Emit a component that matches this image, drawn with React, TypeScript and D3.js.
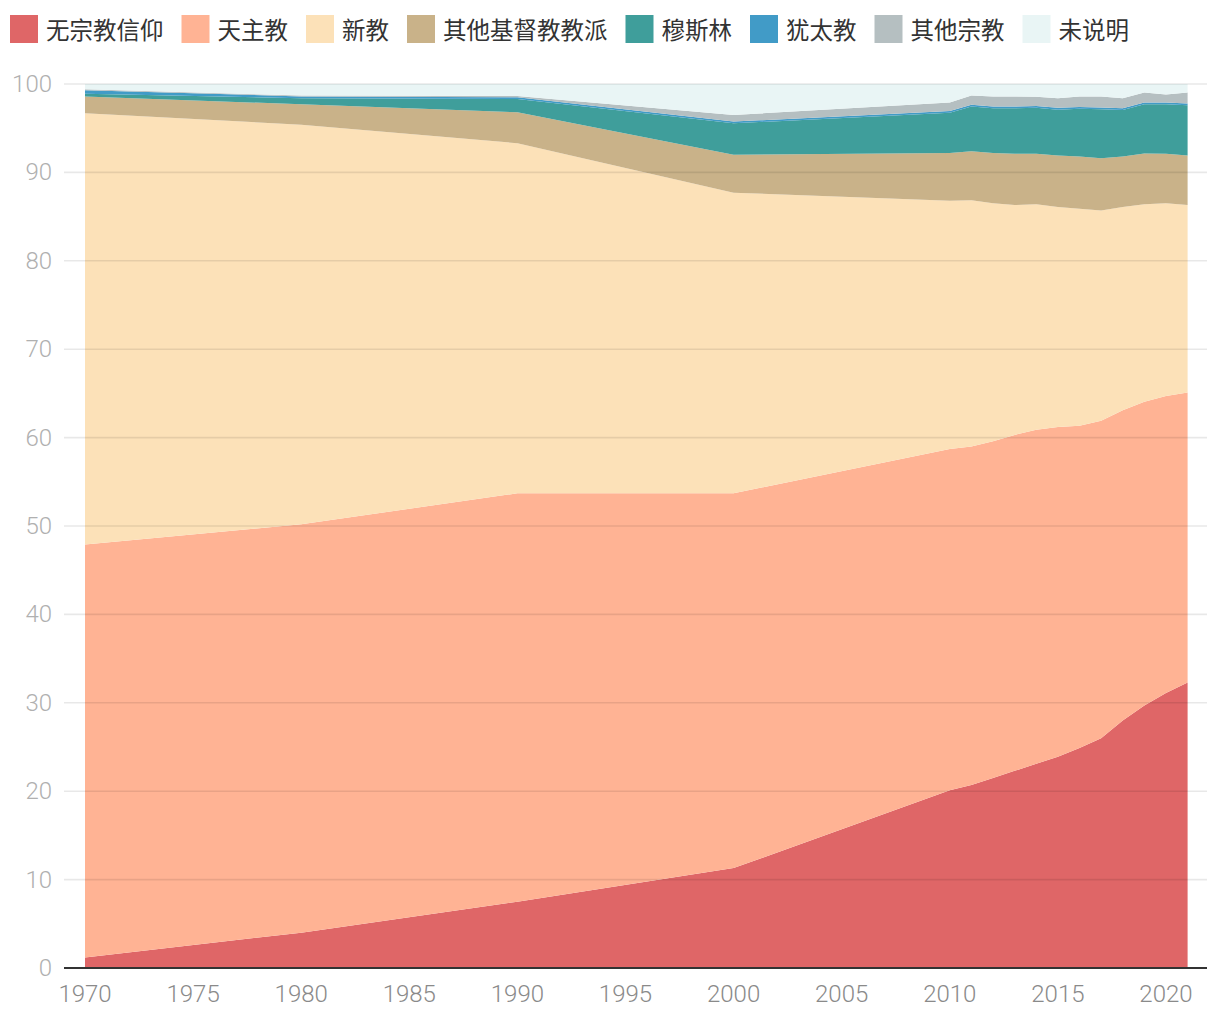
import React from "react";
import * as d3 from "d3";

const years = [1970, 1980, 1990, 2000, 2010, 2011, 2012, 2013, 2014, 2015, 2016, 2017, 2018, 2019, 2020, 2021];
const noReligion = [1.2, 4.0, 7.5, 11.3, 20.1, 20.7, 21.5, 22.3, 23.1, 23.9, 24.9, 26.0, 28.0, 29.7, 31.1, 32.3];
const catholic = [46.7, 46.2, 46.2, 42.4, 38.6, 38.3, 38.1, 38.0, 37.8, 37.3, 36.45, 35.9, 35.1, 34.35, 33.6, 32.8];
const protestant = [48.8, 45.2, 39.6, 34.0, 28.1, 27.85, 26.9, 26.0, 25.5, 24.9, 24.55, 23.8, 23.0, 22.35, 21.8, 21.2];
const otherChristian = [1.9, 2.3, 3.5, 4.3, 5.4, 5.55, 5.7, 5.8, 5.7, 5.8, 5.9, 5.9, 5.7, 5.75, 5.6, 5.6];
const muslim = [0.3, 0.7, 1.5, 3.55, 4.55, 5.05, 5.05, 5.15, 5.2, 5.2, 5.4, 5.55, 5.25, 5.55, 5.6, 5.7];
const jewish = [0.4, 0.2, 0.2, 0.2, 0.2, 0.2, 0.2, 0.2, 0.2, 0.2, 0.2, 0.2, 0.2, 0.2, 0.2, 0.2];
const otherReligion = [0.1, 0.1, 0.15, 0.75, 0.95, 1.05, 1.15, 1.15, 1.05, 1.1, 1.2, 1.25, 1.15, 1.15, 0.9, 1.25];
const unspecified = [0.6, 1.3, 1.35, 3.5, 2.1, 1.3, 1.4, 1.4, 1.45, 1.6, 1.4, 1.4, 1.6, 0.95, 1.2, 0.95];

const seriesNames = ["无宗教信仰", "天主教", "新教", "其他基督教教派", "穆斯林", "犹太教", "其他宗教", "未说明"];
const seriesValues = [noReligion, catholic, protestant, otherChristian, muslim, jewish, otherReligion, unspecified];
const seriesColors = ["#df6667", "#ffb394", "#fce1b8", "#c9b289", "#3f9e9b", "#419bc7", "#b5bfc1", "#e9f5f5"];

const yTicks = [0, 10, 20, 30, 40, 50, 60, 70, 80, 90, 100];
const xTicks = [1970, 1975, 1980, 1985, 1990, 1995, 2000, 2005, 2010, 2015, 2020];

export default function App() {
  const W = 1220;
  const H = 1020;
  const x = d3.scaleLinear().domain([1970, 2021]).range([85, 1187.6]);
  const y = d3.scaleLinear().domain([0, 100]).range([968, 84]);

  const rows = years.map((yr, i) => {
    const r: any = { year: yr };
    seriesNames.forEach((n, k) => (r[n] = seriesValues[k][i]));
    return r;
  });
  const stack = d3.stack<any>().keys(seriesNames);
  const layers = stack(rows);
  const area = d3
    .area<any>()
    .x((d) => x(d.data.year))
    .y0((d) => y(d[0]))
    .y1((d) => y(d[1]))
    .curve(d3.curveLinear);

  const legendFont = 23.5;
  let lx = 10;
  const legendItems = seriesNames.map((n, i) => {
    const item = { name: n, color: seriesColors[i], x: lx };
    lx += 28 + 10 + n.length * legendFont + 16;
    return item;
  });

  return (
    <svg width={W} height={H} style={{ position: "absolute", left: 0, top: 0, background: "#fff" }}>
      <g>
        {legendItems.map((it) => (
          <g key={it.name}>
            <rect x={it.x} y={15} width={28} height={28} fill={it.color} />
            <text
              x={it.x + 36}
              y={29}
              dominantBaseline="central"
              fontSize={legendFont}
              fill="#333"
              fontFamily="'Noto Sans CJK SC', sans-serif"
            >
              {it.name}
            </text>
          </g>
        ))}
      </g>
      <g>
        {layers.map((layer, i) => (
          <path key={i} d={area(layer) || ""} fill={seriesColors[i]} />
        ))}
      </g>
      <g>
        {yTicks.map((t) => (
          <g key={t}>
            {t > 0 && (
              <line x1={64} x2={1207} y1={y(t)} y2={y(t)} stroke="rgba(0,0,0,0.09)" strokeWidth={1.6} />
            )}
            <text
              x={52}
              y={y(t)}
              textAnchor="end"
              dominantBaseline="central"
              fontSize={24}
              fontWeight={300}
              fill="#b0b0b0"
              fontFamily="Roboto, sans-serif"
            >
              {t}
            </text>
          </g>
        ))}
        <line x1={64} x2={1207} y1={y(0)} y2={y(0)} stroke="#333" strokeWidth={2} />
        {xTicks.map((t) => (
          <text
            key={t}
            x={x(t)}
            y={994}
            textAnchor="middle"
            dominantBaseline="central"
            fontSize={24}
            fontWeight={300}
            fill="#8a8a8a"
            fontFamily="Roboto, sans-serif"
          >
            {t}
          </text>
        ))}
      </g>
    </svg>
  );
}
